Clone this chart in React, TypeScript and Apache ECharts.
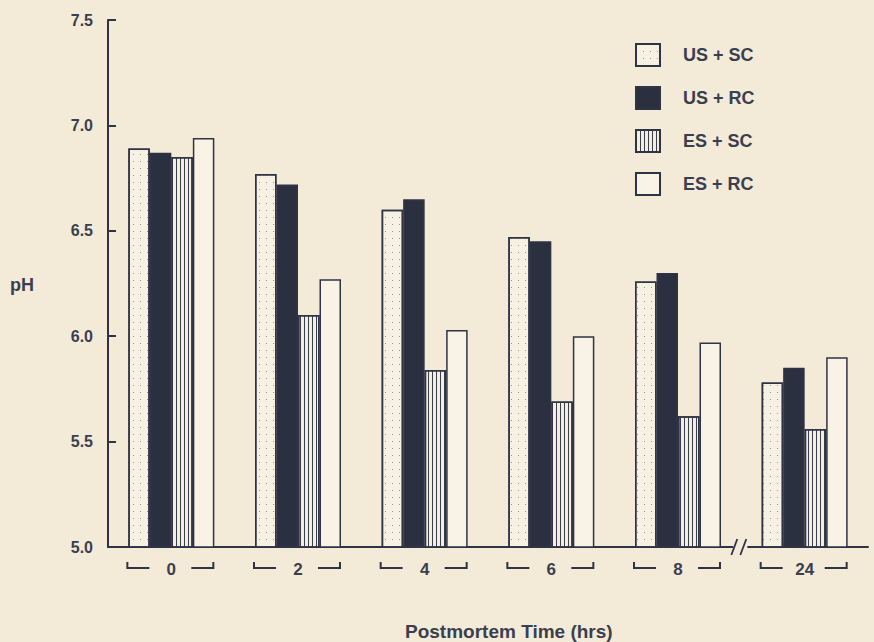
import React, { useEffect, useRef } from "react";
import * as echarts from "echarts";

const categories = ["0", "2", "4", "6", "8", "24"];
const usSc = [6.89, 6.77, 6.6, 6.47, 6.26, 5.78];
const usRc = [6.87, 6.72, 6.65, 6.45, 6.3, 5.85];
const esSc = [6.85, 6.1, 5.84, 5.69, 5.62, 5.56];
const esRc = [6.94, 6.27, 6.03, 6.0, 5.97, 5.9];
const yTicks = [5.0, 5.5, 6.0, 6.5, 7.0, 7.5];

const INK = "#2f3445";
const TXT = "#3a3f50";
const BG = "#f3ead7";
const FONT = "'Liberation Sans', Arial, sans-serif";

export default function App() {
  const ref = useRef<HTMLDivElement>(null);
  useEffect(() => {
    document.body.style.margin = "0";
    const chart = echarts.init(ref.current!, undefined, { renderer: "svg" });
    const barBase = {
      type: "bar" as const,
      barWidth: 21.5,
      barGap: "0%",
      itemStyle: { borderColor: INK, borderWidth: 1.5 },
    };
    chart.setOption({
      animation: false,
      backgroundColor: BG,
      textStyle: { fontFamily: FONT },
      title: [
        {
          text: "pH",
          left: 10,
          top: 276,
          padding: 0,
          textStyle: { fontFamily: FONT, fontSize: 18, fontWeight: "bold", color: TXT },
        },
        {
          text: "Postmortem Time (hrs)",
          left: 405,
          top: 622,
          padding: 0,
          textStyle: { fontFamily: FONT, fontSize: 19, fontWeight: "bold", color: TXT },
        },
      ],
      legend: {
        orient: "vertical",
        left: 635,
        top: 43,
        padding: 0,
        itemWidth: 24,
        itemHeight: 22,
        itemGap: 19,
        icon: "rect",
        data: ["US + SC", "US + RC", "ES + SC", "ES + RC"],
        textStyle: {
          fontFamily: FONT,
          fontSize: 18,
          lineHeight: 22,
          fontWeight: "bold",
          color: TXT,
          padding: [0, 0, 0, 18],
        },
      },
      grid: { left: 108, right: 6, top: 20, bottom: 95 },
      xAxis: {
        type: "category",
        data: categories,
        axisLine: { lineStyle: { color: INK, width: 2 } },
        axisTick: { show: false },
        axisLabel: {
          margin: 14,
          fontFamily: FONT,
          fontSize: 17,
          fontWeight: "bold",
          color: TXT,
        },
      },
      yAxis: {
        type: "value",
        min: 5.0,
        max: 7.5,
        interval: 0.5,
        axisLine: { show: true, lineStyle: { color: INK, width: 2 } },
        axisTick: { show: true, inside: true, length: 8, lineStyle: { color: INK, width: 2 } },
        splitLine: { show: false },
        axisLabel: {
          margin: 15,
          fontFamily: FONT,
          fontSize: 16,
          fontWeight: "bold",
          color: TXT,
          formatter: (v: number) => (yTicks.includes(v) ? v.toFixed(1) : ""),
        },
      },
      series: [
        {
          ...barBase,
          name: "US + SC",
          data: usSc,
          itemStyle: {
            ...barBase.itemStyle,
            color: "#f7f1e3",
            decal: {
              symbol: "rect",
              symbolSize: 1,
              color: "rgba(70,70,80,0.55)",
              dashArrayX: [1, 6],
              dashArrayY: [1, 6],
            },
          },
        },
        {
          ...barBase,
          name: "US + RC",
          data: usRc,
          itemStyle: { ...barBase.itemStyle, color: "#2b3041" },
        },
        {
          ...barBase,
          name: "ES + SC",
          data: esSc,
          itemStyle: {
            ...barBase.itemStyle,
            color: "#f5eedd",
            decal: {
              symbol: "rect",
              symbolSize: 1,
              color: "#3a3f50",
              dashArrayX: [1, 3],
              dashArrayY: [1, 0],
            },
          },
        },
        {
          ...barBase,
          name: "ES + RC",
          data: esRc,
          itemStyle: { ...barBase.itemStyle, color: "#f8f3e6" },
        },
        {
          type: "custom",
          name: "brackets",
          silent: true,
          clip: false,
          data: categories.map((_, i) => [i, 5.0]),
          renderItem: (params: any, api: any) => {
            const idx = api.value(0);
            const p = api.coord([idx, 5.0]);
            const cx = p[0];
            const y = p[1] + 21;
            const ls = { stroke: INK, lineWidth: 2, fill: "none" };
            const children: any[] = [
              { type: "polyline", shape: { points: [[cx - 44, y - 6], [cx - 44, y], [cx - 22, y]] }, style: ls },
              { type: "polyline", shape: { points: [[cx + 20, y], [cx + 42, y], [cx + 42, y - 6]] }, style: ls },
            ];
            if (idx === categories.length - 1) {
              const w = api.size([1, 0])[0];
              const bx = cx - w / 2;
              const by = p[1];
              children.push(
                { type: "rect", shape: { x: bx - 8, y: by - 2, width: 14, height: 4 }, style: { fill: BG } },
                { type: "line", shape: { x1: bx - 10, y1: by + 8, x2: bx - 4, y2: by - 8 }, style: { stroke: INK, lineWidth: 1.8 } },
                { type: "line", shape: { x1: bx - 1, y1: by + 8, x2: bx + 5, y2: by - 8 }, style: { stroke: INK, lineWidth: 1.8 } }
              );
            }
            return { type: "group", children };
          },
        },
      ],
    });
    return () => chart.dispose();
  }, []);
  return <div ref={ref} style={{ position: "absolute", left: 0, top: 0, width: 874, height: 642 }} />;
}
